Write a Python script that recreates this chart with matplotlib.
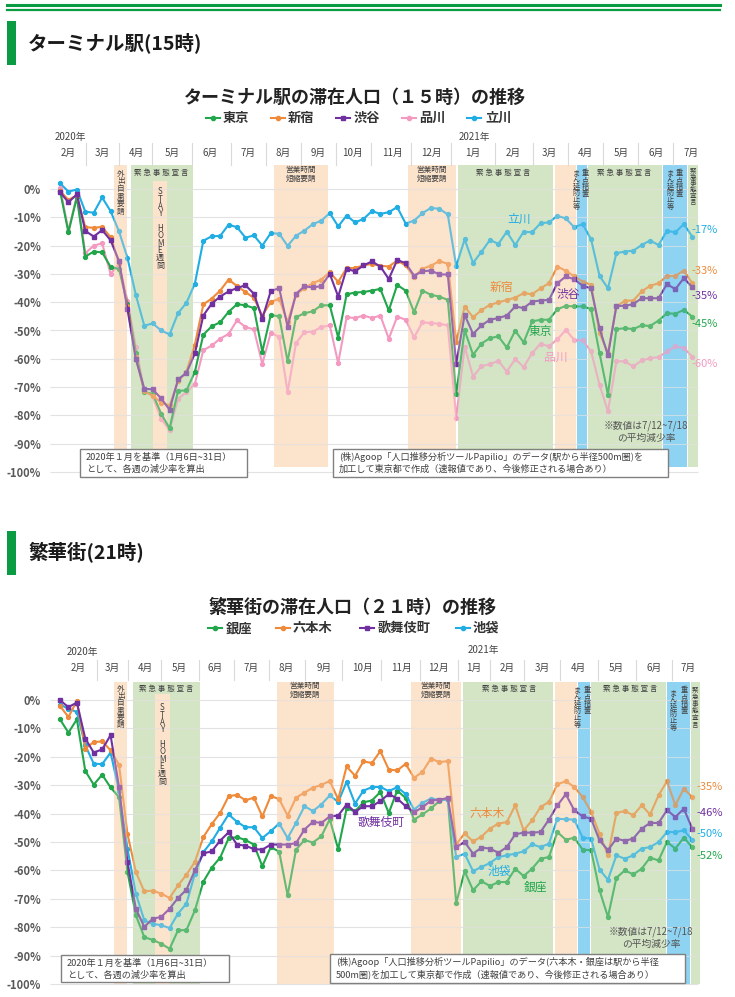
import matplotlib
matplotlib.use('Agg')
import matplotlib.pyplot as plt
from matplotlib.patches import Rectangle
from matplotlib.lines import Line2D

plt.rcParams['font.family'] = ['Noto Sans CJK JP', 'DejaVu Sans']

W, H = 735, 997
fig = plt.figure(figsize=(W / 100, H / 100), dpi=100)
fig.patch.set_facecolor('white')

# ---------------- data ----------------
weeks = list(range(76))   # weekly points, 2020-02-03 ... 2021-07-12

terminal_names = ['東京', '新宿', '渋谷', '品川', '立川']
tokyo = [
    -0.6, -15.3, -2.9, -23.9, -22.1, -22.4, -27.5, -28.3, -40.5, -58.0,
    -71.8, -72.4, -79.4, -84.6, -71.3, -71.2, -64.6, -51.5, -48.5, -47.1,
    -43.4, -40.7, -41.1, -42.1, -57.5, -44.5, -45.0, -60.9, -45.3, -43.9,
    -43.2, -41.1, -41.1, -52.5, -37.2, -36.6, -36.4, -35.9, -35.3, -42.9,
    -33.9, -35.9, -43.5, -35.9, -37.4, -38.0, -39.2, -72.5, -49.9, -58.6,
    -54.6, -52.7, -52.1, -56.0, -50.1, -54.2, -46.8, -46.2, -46.2, -42.5,
    -41.3, -41.5, -41.5, -42.4, -58.0, -72.7, -49.5, -49.2, -49.5, -48.2,
    -48.4, -46.5, -43.9, -44.1, -42.7, -45.1]
shinjuku = [
    -0.6, -3.9, -2.2, -13.5, -13.7, -13.4, -17.0, -26.0, -41.5, -59.5,
    -71.5, -73.0, -75.5, -76.5, -68.0, -64.5, -55.0, -40.8, -38.7, -35.9,
    -32.0, -34.3, -36.4, -38.5, -44.8, -39.9, -38.8, -47.0, -37.3, -35.0,
    -33.3, -32.0, -29.4, -32.8, -28.0, -27.9, -27.0, -26.5, -27.1, -27.4,
    -25.3, -27.0, -31.0, -28.2, -27.1, -25.5, -26.4, -54.0, -41.6, -45.3,
    -42.8, -40.9, -40.1, -39.2, -38.4, -36.8, -37.2, -35.1, -33.3, -27.4,
    -28.9, -30.9, -32.7, -33.9, -50.9, -58.0, -41.5, -39.5, -39.4, -36.2,
    -34.2, -33.3, -30.7, -30.7, -28.8, -33.3]
shibuya = [
    -1.1, -4.7, -1.9, -14.8, -16.8, -14.5, -18.1, -25.5, -42.4, -60.2,
    -70.6, -70.8, -74.0, -78.0, -67.3, -65.0, -58.1, -44.7, -40.5, -38.0,
    -36.2, -35.0, -34.0, -37.0, -45.8, -36.1, -35.0, -48.7, -37.0, -34.4,
    -34.8, -34.3, -30.0, -38.0, -28.2, -29.1, -27.0, -25.6, -27.4, -31.8,
    -25.1, -26.2, -30.6, -29.1, -28.8, -30.2, -30.2, -61.8, -44.5, -51.2,
    -48.2, -46.2, -45.6, -44.7, -41.5, -42.1, -39.8, -39.4, -39.2, -33.3,
    -30.9, -31.9, -34.2, -35.1, -49.2, -58.8, -41.3, -41.3, -40.7, -38.6,
    -38.6, -38.6, -33.6, -35.4, -31.5, -34.7]
shinagawa = [
    0.5, -14.7, -2.4, -22.7, -20.0, -19.2, -30.0, -26.5, -39.4, -55.9,
    -71.2, -73.3, -81.2, -85.3, -74.1, -71.8, -68.8, -57.0, -55.3, -52.9,
    -51.2, -46.4, -48.8, -49.6, -61.8, -50.8, -52.3, -71.8, -54.4, -50.6,
    -50.4, -48.8, -48.2, -61.5, -45.3, -45.6, -44.7, -45.6, -44.7, -52.9,
    -45.1, -46.2, -52.4, -47.1, -47.4, -47.6, -48.2, -80.8, -55.7, -66.3,
    -62.6, -61.9, -60.7, -64.5, -60.1, -62.9, -58.0, -54.7, -55.6, -53.1,
    -49.8, -53.3, -53.5, -57.4, -69.2, -78.6, -60.9, -60.9, -62.7, -60.6,
    -59.8, -59.4, -57.4, -55.6, -56.2, -59.2]
tachikawa = [
    2.0, -0.9, -0.2, -8.0, -8.4, -3.0, -7.8, -15.0, -24.3, -37.5,
    -48.3, -47.5, -50.0, -51.4, -43.9, -40.2, -33.4, -18.3, -16.7, -16.6,
    -12.6, -13.5, -17.2, -16.4, -20.0, -15.6, -15.8, -20.1, -16.5, -14.7,
    -12.4, -11.2, -8.5, -13.2, -9.4, -11.8, -10.6, -7.8, -8.8, -8.2,
    -6.4, -12.2, -11.2, -8.5, -6.7, -7.0, -9.0, -27.3, -17.8, -26.1,
    -22.2, -18.0, -19.4, -15.1, -19.8, -15.1, -15.3, -12.1, -11.8, -9.5,
    -10.4, -13.5, -12.4, -17.8, -30.7, -35.1, -22.7, -22.1, -21.8, -19.8,
    -18.2, -19.8, -14.8, -15.3, -12.4, -16.8]
terminal_end_labels = ['-45%', '-33%', '-35%', '-60%', '-17%']

downtown_names = ['銀座', '六本木', '歌舞伎町', '池袋']
ginza = [
    -6.8, -11.5, -6.8, -25.0, -29.8, -26.3, -30.8, -34.2, -60.4, -75.8,
    -83.5, -84.5, -85.8, -87.6, -81.1, -81.0, -74.1, -64.0, -59.0, -55.5,
    -48.7, -48.3, -49.3, -50.9, -58.5, -51.8, -53.4, -68.8, -52.7, -49.3,
    -50.2, -48.0, -42.0, -52.5, -38.2, -39.2, -36.0, -35.4, -32.4, -39.8,
    -31.9, -34.5, -42.1, -40.3, -38.2, -35.6, -34.7, -71.5, -60.3, -67.0,
    -63.8, -65.5, -64.1, -64.1, -59.4, -62.0, -59.4, -55.9, -55.3, -46.5,
    -49.2, -48.5, -52.7, -52.9, -67.0, -76.4, -62.6, -60.0, -61.4, -59.4,
    -55.5, -56.5, -50.0, -52.3, -48.5, -51.8]
roppongi = [
    -2.1, -6.0, -0.3, -17.1, -14.8, -14.6, -17.7, -22.8, -47.1, -60.6,
    -67.4, -67.1, -68.2, -69.7, -65.3, -61.5, -57.0, -48.3, -43.7, -39.8,
    -33.9, -33.4, -35.3, -34.4, -41.0, -33.8, -34.9, -40.7, -34.4, -32.6,
    -30.9, -29.9, -28.5, -35.0, -23.4, -26.7, -21.6, -22.2, -18.0, -24.5,
    -24.8, -22.5, -27.4, -25.3, -20.6, -21.9, -21.5, -50.8, -47.0, -49.8,
    -48.1, -45.3, -43.5, -43.0, -37.1, -45.9, -42.4, -37.7, -35.9, -29.7,
    -28.6, -30.6, -34.2, -39.4, -47.1, -54.7, -39.8, -39.1, -40.6, -37.1,
    -40.3, -33.6, -28.6, -37.1, -31.2, -34.2]
kabukicho = [
    -0.1, -2.5, -0.9, -13.6, -18.5, -17.4, -12.4, -30.6, -57.0, -73.5,
    -79.9, -77.0, -76.4, -73.5, -69.7, -66.8, -60.0, -54.0, -53.3, -49.5,
    -46.6, -50.9, -51.3, -52.5, -52.7, -50.9, -50.9, -50.9, -50.4, -45.6,
    -42.9, -43.3, -41.0, -40.7, -36.8, -39.4, -37.4, -37.4, -35.6, -33.1,
    -34.7, -37.4, -39.5, -37.8, -35.4, -35.1, -34.5, -51.8, -50.0, -54.1,
    -52.0, -52.3, -53.8, -51.8, -47.3, -46.7, -46.7, -46.5, -42.1, -37.1,
    -33.2, -38.8, -41.0, -41.8, -49.4, -52.9, -48.8, -49.6, -48.8, -45.3,
    -43.3, -43.3, -38.8, -41.2, -38.3, -45.3]
ikebukuro = [
    -1.6, -3.1, -4.2, -16.0, -22.4, -22.6, -18.5, -32.0, -52.3, -68.2,
    -77.6, -78.8, -79.3, -80.3, -75.2, -71.7, -61.2, -53.6, -49.8, -45.0,
    -40.3, -42.9, -44.8, -44.8, -48.6, -46.2, -43.5, -48.6, -43.3, -37.4,
    -39.1, -36.8, -33.6, -35.9, -28.8, -36.5, -31.9, -30.7, -30.6, -32.1,
    -30.7, -33.1, -38.6, -36.2, -34.7, -35.1, -35.1, -55.3, -54.1, -60.3,
    -58.8, -57.4, -55.3, -54.7, -54.1, -53.3, -50.8, -51.8, -50.6, -41.8,
    -42.0, -42.1, -48.5, -48.8, -59.7, -63.3, -54.7, -55.9, -54.7, -52.3,
    -51.8, -50.0, -46.5, -46.5, -45.9, -49.2]
downtown_end_labels = ['-52%', '-35%', '-46%', '-50%']

month_labels = ['2月', '3月', '4月', '5月', '6月', '7月', '8月', '9月', '10月', '11月', '12月',
                '1月', '2月', '3月', '4月', '5月', '6月', '7月']
year_labels = ['2020年', '2021年']
yticks = list(range(0, -101, -10))

# ---------------- styles ----------------
C_GREEN, C_ORANGE, C_PURPLE, C_PINK, C_BLUE = '#21A64B', '#EE8A3A', '#7030A0', '#F49AC1', '#1FADE4'
BAND = {'o': '#FCE3CC', 'g': '#D4E5C5', 'b': '#8ED3F2'}
X0, STEP = 60.0, 8.43
TXT = '#333333'


def ftext(x, y, s, **kw):
    fig.text(x / W, 1 - y / H, s, **kw)


def fline(x0, x1, y0, y1, **kw):
    fig.add_artist(Line2D([x0 / W, x1 / W], [1 - y0 / H, 1 - y1 / H],
                          transform=fig.transFigure, **kw))


def fbox(x0, y0, x1, y1):
    fig.add_artist(Rectangle((x0 / W, 1 - y1 / H), (x1 - x0) / W, (y1 - y0) / H,
                             transform=fig.transFigure, facecolor='white',
                             edgecolor='#808080', lw=1.0, zorder=10))


# page decorations
fline(7, 720, 5, 5, color='#0A9B43', lw=2.2)
fline(7, 720, 10, 10, color='#0A9B43', lw=1.6)


def section(y_top, y_bot, label):
    fig.add_artist(Rectangle((7 / W, 1 - y_bot / H), 9 / W, (y_bot - y_top) / H,
                             transform=fig.transFigure, facecolor='#0A9B43', edgecolor='none'))
    ftext(28, (y_top + y_bot) / 2, label, fontsize=14, fontweight='bold',
          color='#1a1a1a', ha='left', va='center')


section(21, 65, 'ターミナル駅(15時)')
section(531, 575, '繁華街(21時)')


def draw_chart(c):
    L, R = 48, 722
    ax = fig.add_axes([L / W, 1 - c['ax_bot'] / H, (R - L) / W, (c['ax_bot'] - c['ax_top']) / H])
    zx = lambda px: (px - X0) / STEP
    zy = lambda py: (c['zero'] - py) / c['ppp']
    ax.set_xlim(zx(L), zx(R))
    ax.set_ylim(zy(c['ax_bot']), zy(c['ax_top']))
    ax.patch.set_alpha(0)
    for s in ax.spines.values():
        s.set_visible(False)
    ax.set_xticks([])
    ax.set_yticks(yticks)
    ax.set_yticklabels([f'{v}%' for v in yticks], fontsize=8, fontweight='bold', color='#595959')
    ax.tick_params(axis='y', length=0, pad=5)
    ax.hlines(yticks, zx(50), zx(698), colors='#E2E2E2', lw=0.8, zorder=1)

    # header (months)
    ftext(c['years'][0][1], c['years'][0][2], year_labels[0], fontsize=7, color='#444', ha='center', va='center')
    ftext(c['years'][1][1], c['years'][1][2], year_labels[1], fontsize=7, color='#444', ha='center', va='center')
    for lab, x in zip(month_labels, c['month_x']):
        ftext(x, c['month_y'], lab, fontsize=7, color='#444', ha='center', va='center')
    for x in c['sep_x']:
        fline(x, x, c['sep_y'][0], c['sep_y'][1], color='#DADADA', lw=0.8)

    # bands: base + translucent overlay (tints the lines underneath)
    for kind, x0, x1, ytop, ybot in c['bands']:
        for z, a in ((0, 1.0), (3, 0.32)):
            ax.add_patch(Rectangle((zx(x0), ybot), zx(x1) - zx(x0), ytop - ybot,
                                   facecolor=BAND[kind], edgecolor='none', alpha=a, zorder=z))

    # series
    for vals, col, mk, ms in c['series']:
        ax.plot(weeks, vals, color=col, lw=1.5, marker=mk, ms=ms, zorder=2)

    # band annotations
    for t in c['band_text']:
        if t[0] == 'h':
            _, s, x, y, fs = t
            ax.text(zx(x), zy(y), s, fontsize=fs, color='#404040', ha='center', va='top',
                    linespacing=1.1, zorder=5)
        else:
            _, s, x, y, fs, step = t
            for k, ch in enumerate(s):
                if ch.strip():
                    ax.text(zx(x), zy(y + k * step), ch, fontsize=fs, color='#404040',
                            ha='center', va='center', zorder=5)

    # names & end labels
    for s, x, y, col in c['names']:
        ax.text(zx(x), zy(y), s, fontsize=8.5, color=col, ha='center', va='center', zorder=6)
    for s, x, y, col in c['ends']:
        ax.text(zx(x), zy(y), s, fontsize=8, color=col, ha='left', va='center', zorder=6)
    for s, y in c['note']:
        ax.text(zx(c['note_x']), zy(y), s, fontsize=7, color='#555', ha='center', va='center', zorder=6)

    # title & legend
    ftext(c['title'][1], c['title'][2], c['title'][0], fontsize=13, fontweight='bold',
          color='#222', ha='center', va='center')
    for (x0, x1, xt, name), (vals, col, mk, ms) in zip(c['legend'], c['legend_series']):
        fline(x0, x1, c['legend_y'], c['legend_y'], color=col, lw=1.5)
        fig.add_artist(Line2D([(x0 + x1) / 2 / W], [1 - c['legend_y'] / H], transform=fig.transFigure,
                              marker=mk, ms=ms, color=col, lw=0))
        ftext(xt, c['legend_y'], name, fontsize=9.5, fontweight='bold', color=TXT, ha='left', va='center')

    # boxes
    for (x0, y0, x1, y1), lines, tx in c['boxes']:
        fbox(x0, y0, x1, y1)
        for k, ln in enumerate(lines):
            ftext(tx, y0 + 8 + k * 12.5, ln, fontsize=6.6, color='#404040', ha='left',
                  va='center', zorder=11)
    return ax


top_cfg = dict(
    ax_top=128, ax_bot=478, zero=189, ppp=2.83,
    title=('ターミナル駅の滞在人口（１５時）の推移', 355, 97),
    legend_y=118,
    legend=[(206, 220, 223, terminal_names[0]), (271, 285, 288, terminal_names[1]),
            (336, 350, 354, terminal_names[2]), (402, 416, 419, terminal_names[3]),
            (467, 481, 485, terminal_names[4])],
    years=[(0, 70, 137), (0, 474, 137)],
    month_x=[68, 102, 136, 172, 210, 248, 283, 318, 352, 392, 431, 473, 513, 549, 585, 621, 656, 691],
    month_y=153,
    sep_x=[86, 119, 152, 192, 231, 266, 301, 336, 371, 411, 451, 495, 533, 568, 603, 638, 673],
    sep_y=(143, 165),
)
bt, bb = 8.6, -98.3
top_cfg['bands'] = [('o', 114, 127, bt, bb), ('g', 131, 153, bt, bb), ('g', 153, 167, bt, 2.8),
                    ('o', 153, 167, 2.8, bb), ('g', 167, 193, bt, bb), ('o', 274, 328, bt, bb),
                    ('o', 408, 456, bt, bb), ('g', 458, 553, bt, bb), ('o', 555, 576, bt, bb),
                    ('b', 577, 587, bt, bb), ('g', 588, 662, bt, bb), ('b', 663, 687, bt, bb),
                    ('g', 688, 698, bt, bb)]
top_cfg['band_text'] = [
    ('v', '外出自粛要請', 120.5, 174, 5.5, 7.5),
    ('h', '緊 急 事 態 宣 言', 161, 169, 5.5),
    ('v', 'STAY HOME週間', 160, 192, 5.8, 7.3),
    ('h', '営業時間\n短縮要請', 301, 166, 5.5),
    ('h', '営業時間\n短縮要請', 432, 166, 5.5),
    ('h', '緊 急 事 態 宣 言', 503, 169, 5.5),
    ('v', '重点措置', 585, 173, 5.2, 7.0),
    ('v', 'まん延防止等', 576, 173, 5.2, 6.7),
    ('h', '緊 急 事 態 宣 言', 624, 169, 5.5),
    ('v', '重点措置', 679, 173, 5.2, 7.0),
    ('v', 'まん延防止等', 670, 173, 5.2, 6.7),
    ('v', '緊急事態宣言', 693, 171, 4.8, 6.2),
]
top_cfg['series'] = [(tachikawa, C_BLUE, 'o', 2.8), (shinagawa, C_PINK, 'o', 2.8),
                     (tokyo, C_GREEN, 'o', 2.8), (shinjuku, C_ORANGE, 'o', 2.8),
                     (shibuya, C_PURPLE, 's', 3.2)]
top_cfg['legend_series'] = [(tokyo, C_GREEN, 'o', 3), (shinjuku, C_ORANGE, 'o', 3),
                            (shibuya, C_PURPLE, 's', 3.2), (shinagawa, C_PINK, 'o', 3),
                            (tachikawa, C_BLUE, 'o', 3)]
top_cfg['names'] = [(terminal_names[4], 519, 219, C_BLUE), (terminal_names[1], 501, 287, C_ORANGE),
                    (terminal_names[2], 568, 294, C_PURPLE), (terminal_names[0], 540, 331, C_GREEN),
                    (terminal_names[3], 556, 357, C_PINK)]
top_cfg['ends'] = [(terminal_end_labels[4], 691, 230, C_BLUE), (terminal_end_labels[1], 691, 271, C_ORANGE),
                   (terminal_end_labels[2], 691, 296, C_PURPLE), (terminal_end_labels[0], 691, 324, C_GREEN),
                   (terminal_end_labels[3], 691, 364, C_PINK)]
top_cfg['note_x'] = 646
top_cfg['note'] = [('※数値は7/12~7/18', 426), ('の平均減少率', 438)]
top_cfg['boxes'] = [((80, 449, 247, 477), ['2020年１月を基準（1月6日~31日）', 'として、各週の減少率を算出'], 86),
                    ((333, 449, 668, 477), ['(株)Agoop「人口推移分析ツールPapilio」のデータ(駅から半径500m圏)を',
                                            '加工して東京都で作成（速報値であり、今後修正される場合あり）'], 339)]

bot_cfg = dict(
    ax_top=640, ax_bot=990, zero=700, ppp=2.84,
    title=('繁華街の滞在人口（２１時）の推移', 352, 607),
    legend_y=628,
    legend=[(208, 222, 226, downtown_names[0]), (276, 290, 293, downtown_names[1]),
            (360, 374, 378, downtown_names[2]), (456, 470, 473, downtown_names[3])],
    years=[(0, 82, 652), (0, 483, 650)],
    month_x=[78, 112, 145, 179, 215, 251, 286, 324, 362, 401, 438, 474, 507, 542, 578, 616, 654, 688],
    month_y=668,
    sep_x=[97, 128, 161, 199, 234, 269, 305, 342, 381, 420, 458, 490, 524, 560, 598, 636, 672],
    sep_y=(660, 680),
)
bt, bb = 6.3, -100.0
bot_cfg['bands'] = [('o', 114, 127, bt, bb), ('g', 133, 155, bt, bb), ('g', 155, 170, bt, 2.0),
                    ('o', 155, 170, 2.0, bb), ('g', 170, 200, bt, bb), ('o', 277, 334, bt, bb),
                    ('o', 411, 461, bt, bb), ('g', 463, 553, bt, bb), ('o', 555, 577, bt, bb),
                    ('b', 578, 590, bt, bb), ('g', 591, 666, bt, bb), ('b', 667, 690, bt, bb),
                    ('g', 691, 700, bt, bb)]
bot_cfg['band_text'] = [
    ('v', '外出自粛要請', 120.5, 689, 5.5, 7.2),
    ('h', '緊 急 事 態 宣 言', 166, 685, 5.5),
    ('v', 'STAY HOME週間', 162, 708, 5.8, 7.3),
    ('h', '営業時間\n短縮要請', 305, 682, 5.5),
    ('h', '営業時間\n短縮要請', 436, 682, 5.5),
    ('h', '緊 急 事 態 宣 言', 509, 685, 5.5),
    ('v', '重点措置', 587, 690, 5.2, 7.0),
    ('v', 'まん延防止等', 577, 690, 5.2, 7.0),
    ('h', '緊 急 事 態 宣 言', 630, 685, 5.5),
    ('v', '重点措置', 684, 690, 5.2, 7.0),
    ('v', 'まん延防止等', 673, 693, 5.2, 7.0),
    ('v', '緊急事態宣言', 695, 690, 4.8, 7.0),
]
bot_cfg['series'] = [(ginza, C_GREEN, 'o', 2.8), (ikebukuro, C_BLUE, 'o', 2.8),
                     (roppongi, C_ORANGE, 'o', 2.8), (kabukicho, C_PURPLE, 's', 3.2)]
bot_cfg['legend_series'] = [(ginza, C_GREEN, 'o', 3), (roppongi, C_ORANGE, 'o', 3),
                            (kabukicho, C_PURPLE, 's', 3.2), (ikebukuro, C_BLUE, 'o', 3)]
bot_cfg['names'] = [(downtown_names[1], 487, 814, C_ORANGE), (downtown_names[2], 381, 822, C_PURPLE),
                    (downtown_names[3], 499, 872, C_BLUE), (downtown_names[0], 535, 887, C_GREEN)]
bot_cfg['ends'] = [(downtown_end_labels[1], 696, 787, C_ORANGE), (downtown_end_labels[2], 696, 813, C_PURPLE),
                   (downtown_end_labels[3], 696, 834, C_BLUE), (downtown_end_labels[0], 696, 856, C_GREEN)]
bot_cfg['note_x'] = 651
bot_cfg['note'] = [('※数値は7/12~7/18', 932), ('の平均減少率', 944)]
bot_cfg['boxes'] = [((61, 955, 229, 982), ['2020年１月を基準（1月6日~31日）', 'として、各週の減少率を算出'], 67),
                    ((330, 954, 685, 983), ['(株)Agoop「人口推移分析ツールPapilio」のデータ(六本木・銀座は駅から半径',
                                            '500m圏)を加工して東京都で作成（速報値であり、今後修正される場合あり）'], 336)]

draw_chart(top_cfg)
draw_chart(bot_cfg)

fig.savefig('out.png', dpi=100, facecolor='white')
